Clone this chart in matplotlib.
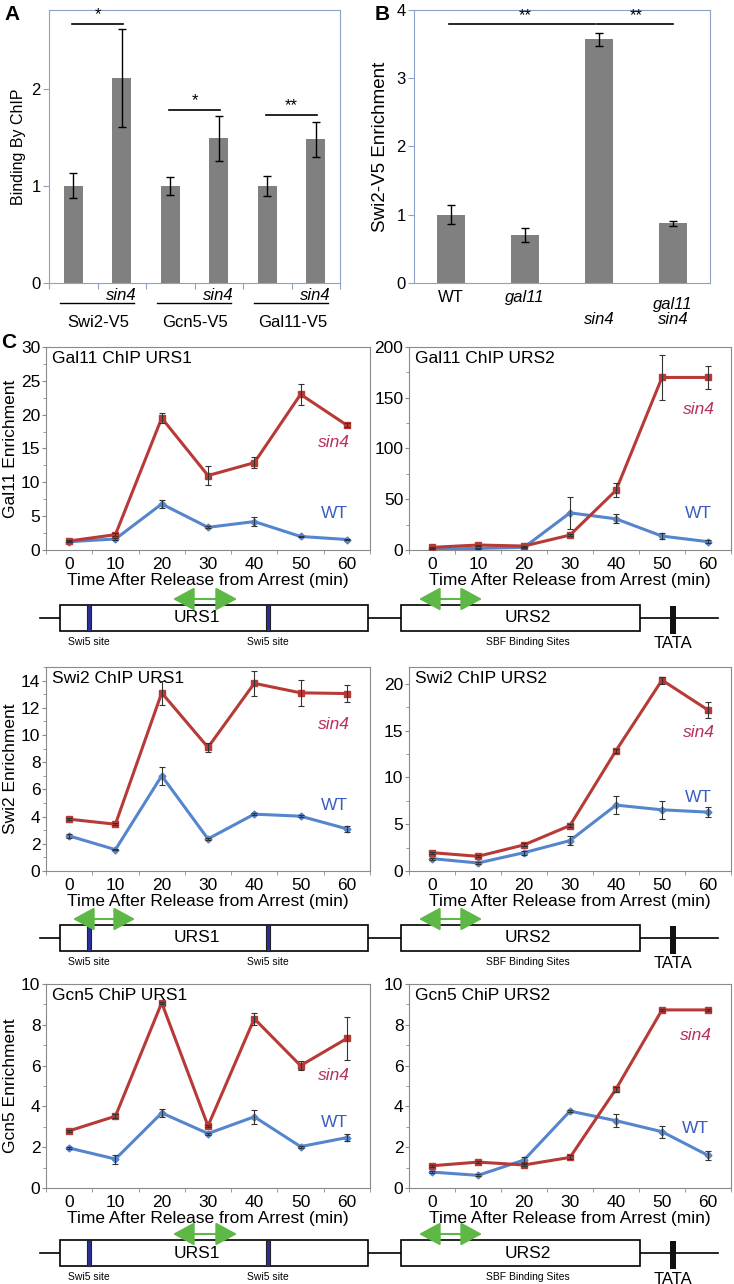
import matplotlib
matplotlib.use("Agg")
import matplotlib.pyplot as plt
import numpy as np
from matplotlib.patches import Rectangle, FancyArrowPatch
from matplotlib.ticker import MultipleLocator

plt.rcParams['font.family'] = ['Liberation Sans', 'DejaVu Sans']

# ---- panel A data
a_groups = ["Swi2-V5", "Gcn5-V5", "Gal11-V5"]
a_wt = [1.0, 1.0, 1.0]
a_wt_err = [0.13, 0.09, 0.10]
a_sin4 = [2.11, 1.49, 1.48]
a_sin4_err = [0.50, 0.23, 0.18]
a_stars = ["*", "*", "**"]
a_star_y = [2.67, 1.78, 1.73]

# ---- panel B data
b_labels = ["WT", "gal11", "sin4", "gal11\nsin4"]
b_italic = [False, True, True, True]
b_row = [0, 0, 1, 0]
b_vals = [1.0, 0.70, 3.57, 0.875]
b_err = [0.14, 0.10, 0.10, 0.035]
b_sig = [(0, 2, "**"), (2, 3, "**")]
b_sig_y = 3.79

# ---- panel C data
times = [0, 10, 20, 30, 40, 50, 60]

gal11_urs1_sin4 = [1.33, 2.27, 19.5, 11.0, 12.9, 23.0, 18.45]
gal11_urs1_sin4_err = [0.2, 0.2, 0.75, 1.4, 0.85, 1.5, 0.3]
gal11_urs1_wt = [1.23, 1.63, 6.8, 3.35, 4.2, 2.0, 1.55]
gal11_urs1_wt_err = [0.1, 0.1, 0.65, 0.15, 0.65, 0.1, 0.1]

gal11_urs2_sin4 = [2.6, 4.9, 3.9, 14.7, 58.8, 170, 170]
gal11_urs2_sin4_err = [0.5, 0.5, 0.5, 1.0, 7, 22, 11]
gal11_urs2_wt = [0.7, 1.6, 2.6, 36.6, 30.7, 13.7, 8.2]
gal11_urs2_wt_err = [0.2, 0.2, 0.3, 15.5, 4.5, 3, 1.5]

swi2_urs1_sin4 = [3.81, 3.44, 13.1, 9.09, 13.8, 13.1, 13.05]
swi2_urs1_sin4_err = [0.08, 0.08, 0.9, 0.33, 0.9, 0.95, 0.62]
swi2_urs1_wt = [2.58, 1.57, 7.0, 2.36, 4.18, 4.03, 3.1]
swi2_urs1_wt_err = [0.12, 0.05, 0.65, 0.05, 0.08, 0.08, 0.2]

swi2_urs2_sin4 = [1.96, 1.57, 2.79, 4.86, 12.86, 20.4, 17.2]
swi2_urs2_sin4_err = [0.1, 0.1, 0.15, 0.2, 0.2, 0.37, 0.84]
swi2_urs2_wt = [1.32, 0.86, 1.96, 3.25, 7.04, 6.54, 6.29]
swi2_urs2_wt_err = [0.1, 0.1, 0.2, 0.48, 0.98, 0.93, 0.5]

gcn5_urs1_sin4 = [2.8, 3.52, 9.08, 3.04, 8.3, 6.0, 7.33]
gcn5_urs1_sin4_err = [0.05, 0.1, 0.05, 0.05, 0.3, 0.23, 1.05]
gcn5_urs1_wt = [1.96, 1.42, 3.68, 2.67, 3.49, 2.03, 2.47]
gcn5_urs1_wt_err = [0.05, 0.22, 0.2, 0.05, 0.34, 0.05, 0.16]

gcn5_urs2_sin4 = [1.09, 1.27, 1.13, 1.5, 4.85, 8.73, 8.73]
gcn5_urs2_sin4_err = [0.05, 0.05, 0.05, 0.1, 0.12, 0.05, 0.05]
gcn5_urs2_wt = [0.78, 0.62, 1.37, 3.77, 3.3, 2.76, 1.6]
gcn5_urs2_wt_err = [0.05, 0.05, 0.13, 0.05, 0.33, 0.3, 0.21]

RED = "#b73a36"
BLUE = "#5585cc"
RED_TXT = "#b8305e"
BLUE_TXT = "#3a5cc2"
GREEN = "#5db846"
FRAME_AB = "#8ea2c6"
FRAME_C = "#8a8a8a"

W, H = 734, 1284
fig = plt.figure(figsize=(W / 100, H / 100), dpi=100)


def px_axes(x0, y0, x1, y1):
    return fig.add_axes([x0 / W, 1 - y1 / H, (x1 - x0) / W, (y1 - y0) / H])


# overlay for schematics and panel letters
ov = fig.add_axes([0, 0, 1, 1])
ov.set_xlim(0, W)
ov.set_ylim(H, 0)
ov.axis("off")

# ---------------- panel A
axa = px_axes(49, 10, 340, 283)
xa = np.arange(6)
axa.bar(xa[0::2], a_wt, width=0.4, color="#808080", yerr=a_wt_err,
        error_kw=dict(ecolor="black", elinewidth=1, capsize=3, capthick=1))
axa.bar(xa[1::2], a_sin4, width=0.4, color="#808080", yerr=a_sin4_err,
        error_kw=dict(ecolor="black", elinewidth=1, capsize=3, capthick=1))
axa.set_xlim(-0.5, 5.5)
axa.set_ylim(0, 2.81)
axa.set_yticks([0, 1, 2])
axa.set_xticks(np.arange(-0.5, 6, 1))
axa.set_xticklabels([])
axa.tick_params(axis="both", labelsize=12, color=FRAME_AB, length=4, pad=2)
for s in axa.spines.values():
    s.set_color(FRAME_AB)
axa.set_ylabel("Binding By ChIP", fontsize=11.5, labelpad=4)
for g in range(3):
    axa.plot([2 * g - 0.03, 2 * g + 1.03], [a_star_y[g]] * 2, color="black", lw=1.2)
    axa.text(2 * g + 0.5, a_star_y[g] + 0.02, a_stars[g], ha="center", va="bottom", fontsize=12)
    axa.text(2 * g + 1, -0.045, "sin4", transform=axa.get_xaxis_transform(),
             ha="center", va="center", fontsize=12, style="italic")
    axa.plot([2 * g - 0.27, 2 * g + 1.25], [-0.072, -0.072], color="black", lw=1,
             transform=axa.get_xaxis_transform(), clip_on=False)
    axa.text(2 * g + 0.52, -0.143, a_groups[g], transform=axa.get_xaxis_transform(),
             ha="center", va="center", fontsize=12)

# ---------------- panel B
axb = px_axes(414, 10, 710, 283)
xb = np.arange(len(b_vals))
axb.bar(xb, b_vals, width=0.38, color="#808080", yerr=b_err,
        error_kw=dict(ecolor="black", elinewidth=1, capsize=3, capthick=1))
axb.set_xlim(-0.5, 3.5)
axb.set_ylim(0, 4)
axb.set_yticks([0, 1, 2, 3, 4])
axb.set_xticks([])
axb.tick_params(axis="y", labelsize=12, color=FRAME_AB, length=4, pad=2)
for s in axb.spines.values():
    s.set_color(FRAME_AB)
axb.set_ylabel("Swi2-V5 Enrichment", fontsize=13.5, labelpad=5)
for i0, i1, st in b_sig:
    axb.plot([i0 - 0.03, i1 - 0.05 if i1 == 2 else i1], [b_sig_y] * 2, color="black", lw=1.2)
    axb.text((i0 + i1) / 2, b_sig_y + 0.02, st, ha="center", va="bottom", fontsize=12)
for i, lab in enumerate(b_labels):
    axb.text(i, -0.052 - 0.081 * b_row[i], lab, transform=axb.get_xaxis_transform(),
             ha="center", va="top" if "\n" in lab else "center", fontsize=12,
             style="italic" if b_italic[i] else "normal", linespacing=1.0)

# ---------------- panel C
rows = [
    ("Gal11 ChIP URS1", "Gal11 ChIP URS2", "Gal11 Enrichment",
     (gal11_urs1_sin4, gal11_urs1_sin4_err, gal11_urs1_wt, gal11_urs1_wt_err),
     (gal11_urs2_sin4, gal11_urs2_sin4_err, gal11_urs2_wt, gal11_urs2_wt_err),
     (30, 5), (200, 50)),
    ("Swi2 ChIP URS1", "Swi2 ChIP URS2", "Swi2 Enrichment",
     (swi2_urs1_sin4, swi2_urs1_sin4_err, swi2_urs1_wt, swi2_urs1_wt_err),
     (swi2_urs2_sin4, swi2_urs2_sin4_err, swi2_urs2_wt, swi2_urs2_wt_err),
     (15, 2), (21.8, 5)),
    ("Gcn5 ChiP URS1", "Gcn5 ChiP URS2", "Gcn5 Enrichment",
     (gcn5_urs1_sin4, gcn5_urs1_sin4_err, gcn5_urs1_wt, gcn5_urs1_wt_err),
     (gcn5_urs2_sin4, gcn5_urs2_sin4_err, gcn5_urs2_wt, gcn5_urs2_wt_err),
     (10, 2), (10, 2)),
]
row_y = [(347, 550), (667, 871), (984, 1188)]
label_pos = [
    [((0.89, 0.53), (0.89, 0.18)), ((0.90, 0.69), (0.90, 0.18))],
    [((0.89, 0.72), (0.89, 0.32)), ((0.90, 0.68), (0.90, 0.36))],
    [((0.89, 0.55), (0.89, 0.32)), ((0.89, 0.75), (0.89, 0.29))],
]
col_x = [(46, 370), (409, 731)]


def line_panel(ax, title, data, ylim, ystep, lp):
    s, se, w, we = data
    ax.plot(times, w, color=BLUE, lw=2.2, marker="D", ms=3.5, mfc=BLUE, mec=BLUE, zorder=3)
    ax.plot(times, s, color=RED, lw=2.2, marker="s", ms=4.5, mfc=RED, mec=RED, zorder=3)
    ax.errorbar(times, w, yerr=we, fmt="none", ecolor="#333333", elinewidth=0.8,
                capsize=2, capthick=0.8, zorder=4)
    ax.errorbar(times, s, yerr=se, fmt="none", ecolor="#333333", elinewidth=0.8,
                capsize=2, capthick=0.8, zorder=4)
    ax.set_xlim(-5, 65)
    ax.set_ylim(0, ylim)
    ax.set_xticks(times)
    ax.set_xticks(np.arange(-5, 66, 10), minor=True)
    ax.yaxis.set_major_locator(MultipleLocator(ystep))
    ax.yaxis.set_minor_locator(MultipleLocator(ystep / 2))
    ax.tick_params(axis="x", which="major", length=0, labelsize=12.5, pad=5)
    ax.tick_params(axis="x", which="minor", length=3, color=FRAME_C)
    ax.tick_params(axis="y", which="major", length=3, color=FRAME_C, labelsize=12.5, pad=1)
    ax.tick_params(axis="y", which="minor", length=2, color=FRAME_C)
    for sp in ax.spines.values():
        sp.set_color(FRAME_C)
    ax.set_xlabel("Time After Release from Arrest (min)", fontsize=12.5, labelpad=1)
    ax.text(0.02, 0.945, title, transform=ax.transAxes, ha="left", va="center", fontsize=12.5)
    ax.text(lp[0][0], lp[0][1], "sin4", transform=ax.transAxes, ha="center", va="center",
            fontsize=12.5, style="italic", color=RED_TXT)
    ax.text(lp[1][0], lp[1][1], "WT", transform=ax.transAxes, ha="center", va="center",
            fontsize=12.5, color=BLUE_TXT)


for r, (t1, t2, ylab, d1, d2, yl1, yl2) in enumerate(rows):
    y0, y1 = row_y[r]
    axl = px_axes(col_x[0][0], y0, col_x[0][1], y1)
    line_panel(axl, t1, d1, yl1[0], yl1[1], label_pos[r][0])
    axl.set_ylabel(ylab, fontsize=12.5, labelpad=2)
    axr = px_axes(col_x[1][0], y0, col_x[1][1], y1)
    line_panel(axr, t2, d2, yl2[0], yl2[1], label_pos[r][1])

# ---------------- promoter schematics
diag_y = [618, 938, 1253]
arrow_left = [(173, 237), (73, 135), (173, 237)]
arrow_right = (419, 482)
for r, yc in enumerate(diag_y):
    ov.plot([40, 718], [yc, yc], color="black", lw=1.2, zorder=1)
    ov.add_patch(Rectangle((60, yc - 13), 308, 26, fc="white", ec="black", lw=1.2, zorder=2))
    ov.add_patch(Rectangle((401, yc - 13), 239, 26, fc="white", ec="black", lw=1.2, zorder=2))
    for sx in (89, 268):
        ov.add_patch(Rectangle((sx - 2, yc - 13), 4, 26, fc="#2a2f9a", ec="#222222", lw=0.8, zorder=3))
        ov.text(sx, yc + 24, "Swi5 site", ha="center", va="center", fontsize=7.5)
    ov.add_patch(Rectangle((670, yc - 12), 6, 28, fc="#111111", ec="none", zorder=3))
    ov.text(673, yc + 26, "TATA", ha="center", va="center", fontsize=12)
    ov.text(197, yc, "URS1", ha="center", va="center", fontsize=12.5)
    ov.text(528, yc, "URS2", ha="center", va="center", fontsize=12.5)
    ov.text(528, yc + 24, "SBF Binding Sites", ha="center", va="center", fontsize=7.5)
    for ax0, ax1 in (arrow_left[r], arrow_right):
        ov.add_patch(FancyArrowPatch((ax0, yc - 19), (ax1, yc - 19), arrowstyle="<|-|>,head_length=7,head_width=3.8",
                                     mutation_scale=1.9, color=GREEN, lw=1.5, shrinkA=0, shrinkB=0, zorder=3))

# panel letters
ov.text(12, 14, "A", fontsize=15, fontweight="bold", ha="center", va="center")
ov.text(382, 14, "B", fontsize=15, fontweight="bold", ha="center", va="center")
ov.text(9, 343, "C", fontsize=15, fontweight="bold", ha="center", va="center")

fig.savefig("out.png", dpi=100)
